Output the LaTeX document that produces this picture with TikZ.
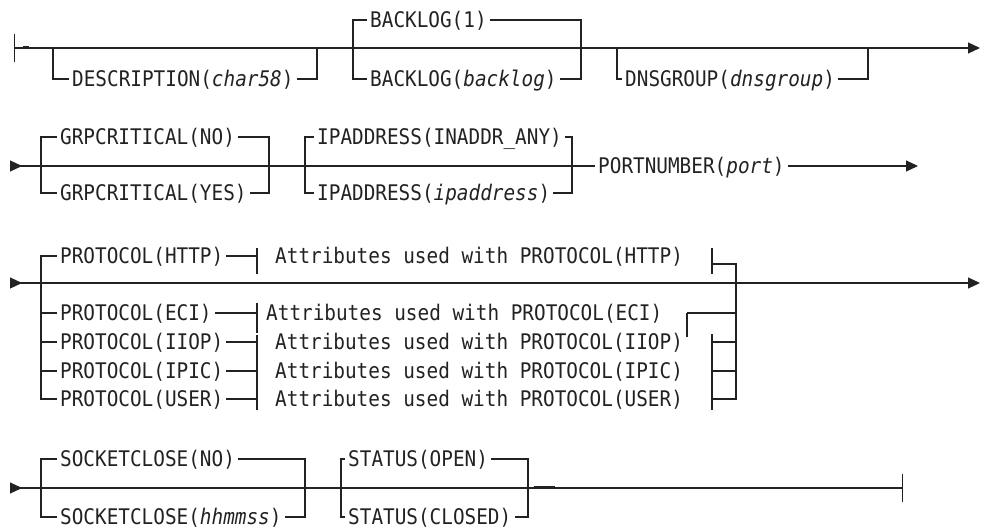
\documentclass[tikz,border=0pt]{standalone}
\usepackage{fontspec}
\setmonofont[FakeStretch=0.9]{DejaVu Sans Mono}
\usepackage{tikz}
\usetikzlibrary{arrows.meta}
\definecolor{tinta}{HTML}{222222}

\begin{document}
\begin{tikzpicture}[
    x=1pt, y=-1pt,
    clave/.style={
        font=\ttfamily\fontsize{21.5}{22}\selectfont,
        text=tinta,
        anchor=west,
        inner xsep=3pt,
        inner ysep=0pt,
        text height=15.7pt,
        text depth=0pt
    },
    linea/.style={draw=tinta, line width=1.2pt},
    flecha/.style={linea, -{Triangle[length=12pt,width=11pt]}},
    entrada/.style={linea, {Triangle[length=12pt,width=11pt,reversed]}-},
    pasante/.style={linea, {Triangle[length=12pt,width=11pt,reversed]}-{Triangle[length=12pt,width=11pt]}}
]
\useasboundingbox (0,0) rectangle (987,529);

% fila 1
\coordinate (ini1) at (14,48);
\coordinate (fin1) at (980,48);
\draw[linea, {Bar[width=28pt]}-{Triangle[length=12pt,width=11pt]}] (ini1) -- (fin1);
\draw[linea, line width=2pt] (23,47.5) -- (29,47.5);

\node[clave] (desc) at (69,79) {DESCRIPTION(\textit{char58})};
\coordinate (descI) at (53,48);
\coordinate (descD) at (317,48);
\draw[linea] (descI) |- (desc.west);
\draw[linea] (desc.east) -| (descD);

\node[clave] (bk1) at (367,20) {BACKLOG(1)};
\node[clave] (bk2) at (367,79) {BACKLOG(\textit{backlog})};
\coordinate (bkI) at (353,79);
\coordinate (bkD) at (581,79);
\draw[linea] (bk1.west) -| (bkI) -- (bk2.west);
\draw[linea] (bk1.east) -| (bkD) -- (bk2.east);

\node[clave] (dns) at (622,79) {DNSGROUP(\textit{dnsgroup})};
\coordinate (dnsI) at (617,48);
\coordinate (dnsD) at (868,48);
\draw[linea] (dnsI) |- (dns.west);
\draw[linea] (dns.east) -| (dnsD);

% fila 2
\node[clave] (port) at (595,166) {PORTNUMBER(\textit{port})};
\coordinate (ini2) at (10,166);
\coordinate (fin2) at (918,166);
\draw[entrada] (ini2) -- (port.west);
\draw[flecha] (port.east) -- (fin2);

\node[clave] (grp1) at (57,137) {GRPCRITICAL(NO)};
\node[clave] (grp2) at (57,193) {GRPCRITICAL(YES)};
\coordinate (grpI) at (41,193);
\coordinate (grpD) at (269,193);
\draw[linea] (grp1.west) -| (grpI) -- (grp2.west);
\draw[linea] (grp1.east) -| (grpD) -- (grp2.east);

\node[clave] (ip1) at (314,137) {IPADDRESS(INADDR\_ANY)};
\node[clave] (ip2) at (314,193) {IPADDRESS(\textit{ipaddress})};
\coordinate (ipI) at (305,193);
\coordinate (ipD) at (572,193);
\draw[linea] (ip1.west) -| (ipI) -- (ip2.west);
\draw[linea] (ip1.east) -| (ipD) -- (ip2.east);

% fila 3
\coordinate (ini3) at (10,283);
\coordinate (fin3) at (980,283);
\draw[pasante] (ini3) -- (fin3);

\node[clave] (http) at (57,256) {PROTOCOL(HTTP)};
\node[clave] (eci)  at (57,313) {PROTOCOL(ECI)};
\node[clave] (iiop) at (57,342) {PROTOCOL(IIOP)};
\node[clave] (ipic) at (57,371) {PROTOCOL(IPIC)};
\node[clave] (user) at (57,399) {PROTOCOL(USER)};

\node[clave] (aHttp) at (272,256) {Attributes used with PROTOCOL(HTTP)};
\node[clave] (aEci)  at (263,313) {Attributes used with PROTOCOL(ECI)};
\node[clave] (aIiop) at (272,342) {Attributes used with PROTOCOL(IIOP)};
\node[clave] (aIpic) at (272,371) {Attributes used with PROTOCOL(IPIC)};
\node[clave] (aUser) at (272,399) {Attributes used with PROTOCOL(USER)};

\coordinate (prI) at (41,399);
\coordinate (prD) at (736,264);
\coordinate (prF) at (736,399);
\draw[linea] (http.west) -| (prI) -- (user.west);
\draw[linea] (eci.west -| prI) -- (eci.west);
\draw[linea] (iiop.west -| prI) -- (iiop.west);
\draw[linea] (ipic.west -| prI) -- (ipic.west);

% marcas de los fragmentos
\coordinate (bHa) at (257,248);
\coordinate (bHb) at (257,274);
\coordinate (bEa) at (257,303);
\coordinate (bEb) at (257,333);
\coordinate (bIa) at (257,335);
\coordinate (bIb) at (257,410);
\draw[linea] (bHa) -- (bHb);
\draw[linea] (bEa) -- (bEb);
\draw[linea] (bIa) -- (bIb);
\draw[linea] (http.east) -- (http.east -| bHa);
\draw[linea] (eci.east) -- (eci.east -| bEa);
\draw[linea] (iiop.east) -- (iiop.east -| bIa);
\draw[linea] (ipic.east) -- (ipic.east -| bIa);
\draw[linea] (user.east) -- (user.east -| bIa);

\coordinate (cHa) at (712,248);
\coordinate (cHb) at (712,274);
\coordinate (cEa) at (687,313);
\coordinate (cEb) at (687,337);
\coordinate (cIa) at (712,334);
\coordinate (cIb) at (712,410);
\draw[linea] (cHa) -- (cHb);
\draw[linea] (cEa) -- (cEb);
\draw[linea] (cIa) -- (cIb);
\draw[linea] (prD -| cHa) -- (prD) -- (prF) -- (prF -| cIa);
\draw[linea] (cEa) -- (cEa -| prD);
\draw[linea] (iiop.east -| cIa) -- (iiop.east -| prD);
\draw[linea] (ipic.east -| cIa) -- (ipic.east -| prD);

% fila 4
\coordinate (ini4) at (10,488);
\coordinate (fin4) at (903,488);
\draw[linea, {Triangle[length=12pt,width=11pt,reversed]}-{Bar[width=28pt]}] (ini4) -- (fin4);
\draw[linea, line width=2pt] (534,487) -- (555,487);

\node[clave] (sc1) at (57,459) {SOCKETCLOSE(NO)};
\node[clave] (sc2) at (57,517) {SOCKETCLOSE(\textit{hhmmss})};
\coordinate (scI) at (41,517);
\coordinate (scD) at (305,517);
\draw[linea] (sc1.west) -| (scI) -- (sc2.west);
\draw[linea] (sc1.east) -| (scD) -- (sc2.east);

\node[clave] (st1) at (345,459) {STATUS(OPEN)};
\node[clave] (st2) at (345,517) {STATUS(CLOSED)};
\coordinate (stI) at (341,517);
\coordinate (stD) at (528,517);
\draw[linea] (st1.west) -| (stI) -- (st2.west);
\draw[linea] (st1.east) -| (stD) -- (st2.east);

\end{tikzpicture}
\end{document}
